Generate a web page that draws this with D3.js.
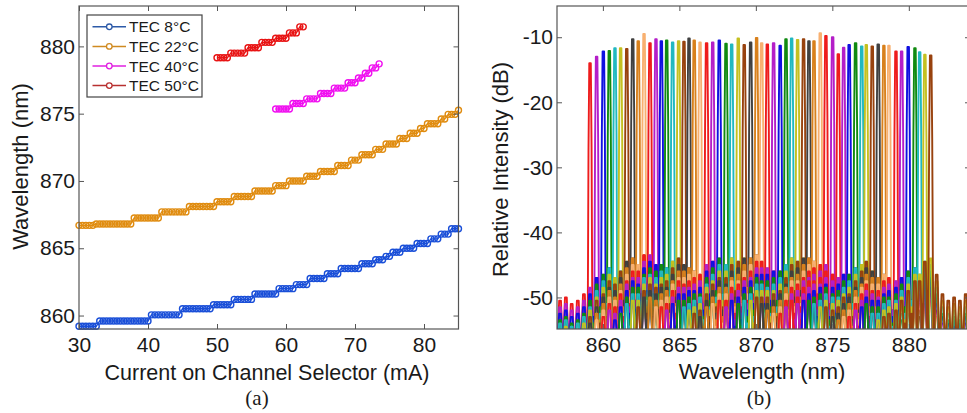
<!DOCTYPE html>
<html><head><meta charset="utf-8">
<script src="https://cdn.jsdelivr.net/npm/d3@7"></script>
<style>
body{margin:0;background:#fff}
svg{display:block}
text{font-family:"Liberation Sans",Arial,sans-serif;fill:#1a1a1a}
</style>
</head><body>
<svg id="c" width="967" height="413"></svg>
<script>
// ---------- (a) tuning curves ----------
const seriesNames = ["TEC 8°C","TEC 22°C","TEC 40°C","TEC 50°C"];
const currentFull = [30,30.5,31,31.5,32,32.5,33,33.5,34,34.5,35,35.5,36,36.5,37,37.5,38,38.5,39,39.5,40,40.5,41,41.5,42,42.5,43,43.5,44,44.5,45,45.5,46,46.5,47,47.5,48,48.5,49,49.5,50,50.5,51,51.5,52,52.5,53,53.5,54,54.5,55,55.5,56,56.5,57,57.5,58,58.5,59,59.5,60,60.5,61,61.5,62,62.5,63,63.5,64,64.5,65,65.5,66,66.5,67,67.5,68,68.5,69,69.5,70,70.5,71,71.5,72,72.5,73,73.5,74,74.5,75,75.5,76,76.5,77,77.5,78,78.5,79,79.5,80,80.5,81,81.5,82,82.5,83,83.5,84,84.5,85];
const wl8 = [859.2,859.2,859.2,859.2,859.2,859.2,
 859.6,859.6,859.6,859.6,859.6,859.6,859.6,859.6,859.6,859.6,859.6,859.6,859.6,859.6,859.6,
 860.05,860.05,860.05,860.05,860.05,860.05,860.05,860.05,860.05,
 860.5,860.5,860.5,860.5,860.5,860.5,860.5,860.5,860.5,
 860.8,860.8,860.8,860.8,860.8,860.8,
 861.2,861.2,861.2,861.2,861.2,861.2,
 861.6,861.6,861.6,861.6,861.6,861.6,861.6,
 862.0,862.0,862.0,862.0,862.0,
 862.3,862.3,862.3,862.3,
 862.75,862.75,862.75,862.75,862.75,
 863.1,863.1,863.1,863.1,
 863.5,863.5,863.5,863.5,863.5,863.5,
 863.85,863.85,863.85,863.85,
 864.15,864.15,864.15,
 864.4,864.4,
 864.7,864.7,864.7,
 865.0,865.0,865.0,865.0,
 865.35,865.35,865.35,865.35,
 865.7,865.7,865.7,
 866.05,866.05,866.05,
 866.45,866.45,866.45];
const wl22 = [866.7,866.7,866.7,866.7,866.7,
 866.8,866.8,866.8,866.8,866.8,866.8,866.8,866.8,866.8,866.8,866.8,
 867.25,867.25,867.25,867.25,867.25,867.25,867.25,867.25,
 867.7,867.7,867.7,867.7,867.7,867.7,867.7,867.7,
 868.1,868.1,868.1,868.1,868.1,868.1,868.1,868.1,
 868.45,868.45,868.45,868.45,868.45,
 868.85,868.85,868.85,868.85,868.85,868.85,
 869.25,869.25,869.25,869.25,869.25,869.25,
 869.65,869.65,869.65,869.65,
 870.0,870.0,870.0,870.0,870.0,
 870.35,870.35,870.35,870.35,
 870.7,870.7,870.7,870.7,870.7,
 871.15,871.15,871.15,871.15,
 871.55,871.55,871.55,
 871.95,871.95,871.95,871.95,
 872.35,872.35,872.35,
 872.75,872.75,872.75,872.75,
 873.15,873.15,873.15,
 873.55,873.55,873.55,
 873.9,873.9,
 874.25,874.25,874.25,874.25,
 874.6,874.6,
 874.95,874.95,874.95,
 875.25];
const current40 = [58.5,59,59.5,60,60.5,61,61.5,62,62.5,63,63.5,64,64.5,65,65.5,66,66.5,67,67.5,68,68.5,69,69.5,70,70.5,71,71.5,72,72.5,73,73.5];
const wl40 = [875.35,875.35,875.35,875.35,875.35,
 875.75,875.75,875.75,875.75,
 876.1,876.1,876.1,876.1,
 876.5,876.5,876.5,876.5,
 876.9,876.9,876.9,876.9,
 877.3,877.3,877.3,
 877.65,877.65,
 878.0,878.0,
 878.4,878.4,
 878.7];
const current50 = [50,50.5,51,51.5,52,52.5,53,53.5,54,54.5,55,55.5,56,56.5,57,57.5,58,58.5,59,59.5,60,60.5,61,61.5,62,62.5];
const wl50 = [879.15,879.15,879.15,879.15,
 879.5,879.5,879.5,879.5,879.5,
 879.9,879.9,879.9,879.9,
 880.3,880.3,880.3,880.3,
 880.6,880.6,880.6,880.6,
 881.0,881.0,881.0,
 881.45,881.45];
const xTicksA = [30,40,50,60,70,80];
const yTicksA = [860,865,870,875,880];

// ---------- (b) spectra ----------
const chWl = [859.16,859.59,860.03,860.42,860.79,861.16,861.56,861.95,862.31,862.69,
 863.08,863.47,863.82,864.17,864.56,864.95,865.30,865.63,865.97,866.35,
 866.78,867.18,867.61,868.05,868.42,868.85,869.24,869.66,870.05,870.38,
 870.75,871.16,871.59,871.97,872.34,872.73,873.12,873.47,873.80,874.21,
 874.58,875.02,875.39,875.74,876.10,876.52,876.92,877.22,877.61,878.00,
 878.37,878.70,879.16,879.53,879.96,880.40,880.71,881.05,881.43];
const chPeakDb = [-14.0,-13.0,-12.2,-12.1,-11.7,-11.7,-11.8,-10.3,-10.6,-9.5,
 -10.9,-10.3,-10.6,-10.5,-10.8,-10.6,-10.7,-10.2,-10.5,-10.8,
 -10.9,-10.8,-10.5,-11.0,-11.1,-10.2,-11.2,-10.8,-10.1,-10.9,
 -11.1,-10.9,-11.3,-10.3,-10.2,-10.4,-10.3,-10.6,-10.6,-9.4,
 -9.8,-10.0,-12.6,-11.6,-11.2,-10.9,-11.4,-11.2,-11.4,-11.1,
 -11.3,-11.3,-12.2,-12.2,-11.5,-11.7,-12.3,-12.7,-12.8];
const chSideDb = [-48.5,-47,-46.5,-45.5,-47,-46,-44.5,-44,-45,-43.5,
 -43.5,-45,-45,-45.5,-44.5,-44,-45,-45.5,-46,-46.5,
 -45,-44.5,-44,-45,-44,-44.5,-44,-44,-43.5,-44.5,
 -45.5,-46,-46,-45,-44,-44.5,-44,-44,-44.5,-45,
 -45,-46.5,-47,-46.5,-46.5,-45.5,-45,-44.5,-46,-47,
 -46.5,-47,-47.5,-47,-46,-45.5,-46.5,-44.5,-44];
const chSetStart = [0, 42];
const edgeLeftWl = [857.2,857.58,857.96,858.36,858.76];
const edgeLeftDb = [-50.5,-50,-51,-50.5,-49.5];
const edgeRightWl = [881.82,882.2,882.58,882.96,883.34,883.72];
const edgeRightDb = [-46.5,-49.5,-50.5,-50,-50.5,-49.5];
const sideDropDb = [0,0,1,2,3,3.5,4.5,5.5,6.5];
const xTicksB = [860,865,870,875,880];
const yTicksB = [-50,-40,-30,-20,-10];

// ---------- styles ----------
const colA = ["#1a4fd8","#e08c10","#f010f0","#e81414"];
const legLineA = ["#2d5aa8","#d08a20","#e020e0","#b83030"];
const palB = ["#ee1c1c","#b41ec8","#1010e0","#108a10","#20b8c0","#c4c020","#98420e","#404040","#d8801c","#f8b070"];
const boxCol = "#555";

const svg = d3.select("#c");

function frame(g, x, y, A, xt, yt, fmt){
  const tl = 5;
  g.append("g").attr("transform",`translate(0,${A.b})`)
   .call(d3.axisBottom(x).tickValues(xt).tickSizeInner(-tl).tickSizeOuter(0).tickPadding(8).tickFormat(fmt))
   .call(s=>{s.select(".domain").remove();s.selectAll("text").attr("font-size",21).style("font-family","'Liberation Sans',Arial,sans-serif");s.selectAll("line").attr("stroke",boxCol);});
  g.append("g").attr("transform",`translate(0,${A.t})`)
   .call(d3.axisTop(x).tickValues(xt).tickSizeInner(-tl).tickSizeOuter(0).tickFormat(""))
   .call(s=>{s.select(".domain").remove();s.selectAll("line").attr("stroke",boxCol);});
  g.append("g").attr("transform",`translate(${A.l},0)`)
   .call(d3.axisLeft(y).tickValues(yt).tickSizeInner(-tl).tickSizeOuter(0).tickPadding(4).tickFormat(fmt))
   .call(s=>{s.select(".domain").remove();s.selectAll("text").attr("font-size",21).style("font-family","'Liberation Sans',Arial,sans-serif");s.selectAll("line").attr("stroke",boxCol);});
  g.append("g").attr("transform",`translate(${A.r},0)`)
   .call(d3.axisRight(y).tickValues(yt).tickSizeInner(-tl).tickSizeOuter(0).tickFormat(""))
   .call(s=>{s.select(".domain").remove();s.selectAll("line").attr("stroke",boxCol);});
  g.append("rect").attr("x",A.l).attr("y",A.t).attr("width",A.r-A.l).attr("height",A.b-A.t)
   .attr("fill","none").attr("stroke",boxCol).attr("stroke-width",1.2);
}

// ===== panel (a) =====
const A = {l:79,r:458.5,t:6,b:329};
const xA = d3.scaleLinear().domain([30,85]).range([A.l,A.r]);
const yA = d3.scaleLinear().domain([859,883]).range([A.b,A.t]);
const gA = svg.append("g");
const seriesA = [
  {x:currentFull,y:wl8},{x:currentFull,y:wl22},{x:current40,y:wl40},{x:current50,y:wl50}
];
seriesA.forEach((s,i)=>{
  const pts = s.x.map((v,k)=>[v,s.y[k]]);
  gA.append("path").attr("d",d3.line().x(d=>xA(d[0])).y(d=>yA(d[1]))(pts))
    .attr("fill","none").attr("stroke",colA[i]).attr("stroke-width",1.4);
  gA.append("g").selectAll("circle").data(pts).join("circle")
    .attr("cx",d=>xA(d[0])).attr("cy",d=>yA(d[1])).attr("r",3)
    .attr("fill","none").attr("stroke",colA[i]).attr("stroke-width",1.4);
});
frame(gA,xA,yA,A,xTicksA,yTicksA,d=>String(d));
// legend
const lg = gA.append("g");
lg.append("rect").attr("x",87).attr("y",15).attr("width",115).attr("height",82)
  .attr("fill","#fff").attr("stroke","#444").attr("stroke-width",1.2);
seriesNames.forEach((n,i)=>{
  const yy = 26.8 + i*19.6;
  lg.append("line").attr("x1",92.5).attr("x2",126).attr("y1",yy).attr("y2",yy)
    .attr("stroke",legLineA[i]).attr("stroke-width",1.5);
  lg.append("circle").attr("cx",109.3).attr("cy",yy).attr("r",2.8)
    .attr("fill","#fff").attr("stroke",legLineA[i]).attr("stroke-width",1.3);
  lg.append("text").attr("x",129).attr("y",yy+5.6).attr("font-size",15.5).text(n);
});
gA.append("text").attr("x",267).attr("y",379.5).attr("text-anchor","middle").attr("font-size",21.5)
  .text("Current on Channel Selector (mA)");
gA.append("text").attr("transform","translate(27.5,166.5) rotate(-90)").attr("text-anchor","middle")
  .attr("font-size",22).text("Wavelength (nm)");
gA.append("text").attr("x",257).attr("y",405).attr("text-anchor","middle").attr("font-size",21)
  .style("font-family","'Liberation Serif','Times New Roman',serif").text("(a)");

// ===== panel (b) =====
const B = {l:557,r:970,t:6,b:329};
const xB = d3.scaleLinear().domain([857,884]).range([B.l,B.r]);
const yB = d3.scaleLinear().domain([-54.85,-5.2]).range([B.b,B.t]);
const gB = svg.append("g");
gB.append("clipPath").attr("id","clipB").append("rect")
  .attr("x",B.l).attr("y",B.t).attr("width",B.r-B.l).attr("height",B.b-B.t);
const plotB = gB.append("g").attr("clip-path","url(#clipB)");

const allWl = edgeLeftWl.concat(chWl, edgeRightWl);
const allSide = edgeLeftDb.concat(chSideDb, edgeRightDb);
const nL = edgeLeftWl.length, nC = chWl.length;
// neighbour distance; edge positions count as if adjacent to the nearest channel
function effDist(k, ci){
  const d = Math.abs(k-ci);
  if(k < nL) return d - (nL-k) + 1;
  if(k >= nL+nC) return d - (k-(nL+nC-1)) + 1;
  return d;
}
const lowDb = -58;
const lineB = d3.line().x(d=>xB(d[0])).y(d=>yB(d[1]));
chWl.forEach((w0,i)=>{
  const ci = i + nL;
  const setIdx = i >= chSetStart[1] ? i - chSetStart[1] : i - chSetStart[0];
  const col = palB[setIdx % palB.length];
  const pts = [[856,lowDb]];
  allWl.forEach((w,k)=>{
    const d = effDist(k,ci);
    if(k===ci){
      const pk = chPeakDb[i], ped = chSideDb[i];
      pts.push([w-0.19,lowDb],[w-0.14,ped],[w-0.1,pk-13],[w-0.05,pk],[w+0.05,pk],[w+0.1,pk-13],[w+0.14,ped],[w+0.19,lowDb]);
    } else if(d >= 1 && d < sideDropDb.length){
      const lv = allSide[k]-sideDropDb[d];
      pts.push([w-0.17,lowDb],[w-0.06,lv],[w+0.06,lv],[w+0.17,lowDb]);
    }
    if(k+1 < allWl.length){
      const d2 = Math.max(1,Math.min(effDist(k,ci),effDist(k+1,ci)));
      if(d2 < sideDropDb.length-1){
        const m = (w+allWl[k+1])/2;
        const lv2 = Math.min(allSide[k],allSide[k+1]) - sideDropDb[d2+1] - 3.5;
        pts.push([m-0.05,lowDb],[m,lv2],[m+0.05,lowDb]);
      }
    }
  });
  pts.push([885,lowDb]);
  plotB.append("path").attr("d",lineB(pts)).attr("fill","none")
    .attr("stroke",col).attr("stroke-width",1.9).attr("stroke-linejoin","round");
});
frame(gB,xB,yB,B,xTicksB,yTicksB,d=>String(d));
gB.append("text").attr("x",762).attr("y",379).attr("text-anchor","middle").attr("font-size",22)
  .text("Wavelength (nm)");
gB.append("text").attr("transform","translate(507.5,169.5) rotate(-90)").attr("text-anchor","middle")
  .attr("font-size",22).text("Relative Intensity (dB)");
gB.append("text").attr("x",759).attr("y",405).attr("text-anchor","middle").attr("font-size",21)
  .style("font-family","'Liberation Serif','Times New Roman',serif").text("(b)");
</script>
</body></html>
